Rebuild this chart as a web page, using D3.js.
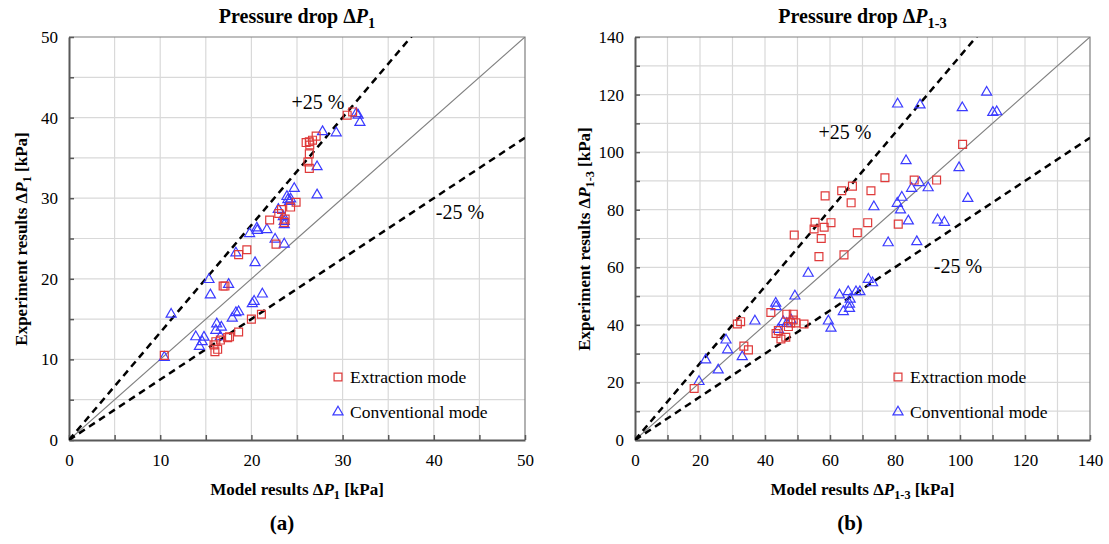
<!DOCTYPE html>
<html>
<head>
<meta charset="utf-8">
<script src="https://cdn.jsdelivr.net/npm/d3@7"></script>
<style>
  body { margin: 0; background: #fff; }
  svg text { font-family: "Liberation Serif", Tinos, "Times New Roman", Times, "Nimbus Roman", "DejaVu Serif", serif; }
</style>
</head>
<body>
<script>
// panel (a): pressure drop dP1, [model, experiment] in kPa
var extractionA = [
  [10.45,10.5],[16.9,19.1],[17.1,19.1],[18.6,23.0],[19.5,23.6],[22.7,24.3],
  [22.0,27.3],[23.0,28.1],[23.3,28.6],[23.6,27.0],[23.7,27.4],[24.3,28.9],[24.9,29.5],
  [26.2,34.5],[26.35,33.7],[26.35,35.5],[26.0,36.9],[26.4,36.6],[26.35,37.0],[26.7,37.2],[27.1,37.7],
  [30.5,40.3],[31.1,40.7],
  [15.9,11.8],[16.0,10.95],[16.3,11.25],[16.1,12.2],[16.6,12.4],[17.4,12.7],[17.6,12.8],
  [18.6,13.4],[20.0,15.0],[21.1,15.6]
];
var conventionalA = [
  [10.45,10.25],[11.2,15.6],[15.35,19.9],[15.5,18.0],[17.5,19.3],[18.3,23.2],[20.4,22.0],[22.6,24.9],[23.6,24.3],
  [21.2,18.1],[20.1,16.9],[20.3,17.2],[18.3,15.8],[18.6,15.9],[17.9,15.1],[16.2,14.4],[16.1,13.6],[16.7,14.0],
  [16.6,12.8],[13.9,12.8],[14.8,12.75],[14.3,11.6],[14.6,12.2],
  [19.8,25.6],[20.6,26.3],[20.65,26.0],[21.7,26.1],[22.95,28.6],[23.5,27.7],[23.6,27.1],[23.6,26.7],
  [23.9,30.2],[24.0,29.8],[24.3,29.9],[24.2,29.6],[24.7,31.2],
  [27.2,33.9],[27.2,30.4],[27.8,38.25],[29.3,38.1],[31.5,40.5],[31.7,40.3],[31.9,39.4]
];

// panel (b): pressure drop dP1-3
var extractionB = [
  [18.2,17.9],[31.5,40.3],[32.5,41.1],[33.5,32.6],[34.9,31.3],[41.8,44.3],[46.7,43.7],[48.7,43.7],
  [43.4,37.0],[44.1,38.0],[44.9,35.1],[46.4,35.7],[47.2,39.4],[47.9,40.7],[49.5,40.7],[52.0,40.3],[48.7,41.7],
  [49.0,71.2],[55.4,75.6],[55.1,73.3],[58.2,73.9],[60.3,75.5],[57.3,70.0],[56.6,63.7],[58.5,84.8],
  [63.6,86.6],[66.9,88.2],[66.5,82.4],[72.6,86.6],[76.9,91.1],[71.6,75.5],[68.4,72.0],[64.3,64.3],
  [81.0,75.0],[85.9,90.3],[92.8,90.3],[100.8,102.7]
];
var conventionalB = [
  [19.7,20.3],[21.75,27.8],[25.6,24.3],[28.0,34.7],[28.5,31.3],[33.0,28.9],[36.9,41.3],[43.3,47.5],[43.4,46.3],
  [49.2,50.0],[53.3,57.9],[45.6,41.1],[46.7,40.5],[48.0,41.7],[44.1,38.4],
  [59.5,41.3],[60.3,38.8],[62.9,50.4],[65.6,51.5],[68.0,51.5],[69.2,51.5],[66.2,48.9],[66.0,47.2],[66.0,45.7],[64.1,44.6],
  [71.8,55.8],[73.1,54.6],[77.9,68.5],[86.7,68.9],[84.1,76.1],[93.1,76.4],[95.2,75.6],[73.5,81.0],[81.7,79.9],
  [80.7,82.2],[82.1,84.3],[85.1,87.4],[87.5,89.4],[90.2,87.6],[83.4,97.0],[99.7,94.6],[102.4,83.9],
  [80.8,116.7],[87.7,116.4],[100.7,115.4],[108.2,120.8],[110.1,113.8],[111.3,114.0]
];

var bandFactors = [4/3, 3/4];   // +25 % / -25 % lines
var legendNames = ["Extraction mode", "Conventional mode"];

var width = 1109, height = 544;
var serif = "'Liberation Serif', Tinos, 'Times New Roman', Times, 'Nimbus Roman', 'DejaVu Serif', serif";
var svg = d3.select("body").append("svg").attr("width", width).attr("height", height)
  .attr("font-family", serif);

// text with "ΔP" + subscript
function deltaText(t, pre, sub, post, size) {
  t.append("tspan").text(pre + "Δ");
  t.append("tspan").attr("font-style", "italic").text("P");
  t.append("tspan").attr("font-size", size * 0.72).attr("dy", size * 0.25).text(sub);
  if (post) t.append("tspan").attr("dy", -size * 0.25).text(post);
}

function makePanel(cfg) {
  var x = d3.scaleLinear().domain([0, cfg.max]).range([cfg.left, cfg.right]);
  var y = d3.scaleLinear().domain([0, cfg.max]).range([440, 37]);
  var g = svg.append("g");
  var grid = d3.range(cfg.step, cfg.max, cfg.step);

  //grid
  g.selectAll(".vg").data(grid).enter().append("line")
    .attr("x1", d => x(d)).attr("x2", d => x(d)).attr("y1", y(0)).attr("y2", y(cfg.max))
    .attr("stroke", "#d9d9d9").attr("stroke-width", 1.2);
  g.selectAll(".hg").data(grid).enter().append("line")
    .attr("x1", x(0)).attr("x2", x(cfg.max)).attr("y1", d => y(d)).attr("y2", d => y(d))
    .attr("stroke", "#d9d9d9").attr("stroke-width", 1.2);

  // frame top/right
  g.append("path")
    .attr("d", "M" + x(0) + "," + y(cfg.max) + "H" + x(cfg.max) + "V" + y(0))
    .attr("fill", "none").attr("stroke", "#7f7f7f").attr("stroke-width", 1.2);

  var ticks = d3.range(0, cfg.max + 1, cfg.step);
  var fmt = d => (d % cfg.label === 0 ? d : "");

  var xAxis = g.append("g").attr("transform", "translate(0," + y(0) + ")")
    .call(d3.axisBottom(x).tickValues(ticks).tickFormat(fmt).tickSizeInner(-5).tickSizeOuter(0).tickPadding(14));
  var yAxis = g.append("g").attr("transform", "translate(" + x(0) + ",0)")
    .call(d3.axisLeft(y).tickValues(ticks).tickFormat(fmt).tickSizeInner(-5).tickSizeOuter(0).tickPadding(11));
  [xAxis, yAxis].forEach(a => {
    a.attr("font-family", serif).attr("font-size", 17);
    a.select(".domain").attr("stroke", "#595959").attr("stroke-width", 2);
    a.selectAll(".tick line").attr("stroke", "#595959").attr("stroke-width", 1.5);
    a.selectAll("text").attr("fill", "#000");
  });

  // 1:1 line and +/-25 % lines, clipped to the plot
  var clipId = "clip" + cfg.id;
  svg.append("clipPath").attr("id", clipId).append("rect")
    .attr("x", x(0)).attr("y", y(cfg.max)).attr("width", x(cfg.max) - x(0)).attr("height", y(0) - y(cfg.max));
  var lines = g.append("g").attr("clip-path", "url(#" + clipId + ")");
  lines.append("line")
    .attr("x1", x(0)).attr("y1", y(0)).attr("x2", x(cfg.max)).attr("y2", y(cfg.max))
    .attr("stroke", "#808080").attr("stroke-width", 1.2);
  lines.selectAll(".band").data(bandFactors).enter().append("line")
    .attr("x1", x(0)).attr("y1", y(0))
    .attr("x2", x(cfg.max)).attr("y2", d => y(cfg.max * d))
    .attr("stroke", "#000").attr("stroke-width", 2.5).attr("stroke-dasharray", "7,5");

  // points
  var sq = d3.symbol().type(d3.symbolSquare).size(62);
  var tri = d3.symbol().type(d3.symbolTriangle).size(44);
  g.selectAll(".conv").data(cfg.conv).enter().append("path")
    .attr("d", tri).attr("transform", d => "translate(" + x(d[0]) + "," + y(d[1]) + ")")
    .attr("fill", "none").attr("stroke", "#3b3bff").attr("stroke-width", 1.2);
  g.selectAll(".extr").data(cfg.extr).enter().append("path")
    .attr("d", sq).attr("transform", d => "translate(" + x(d[0]) + "," + y(d[1]) + ")")
    .attr("fill", "none").attr("stroke", "#df3a3a").attr("stroke-width", 1.2);

  // band labels
  g.append("text").attr("x", cfg.plusPos[0]).attr("y", cfg.plusPos[1]).attr("text-anchor", "middle")
    .attr("font-size", 20).text("+25 %");
  g.append("text").attr("x", cfg.minusPos[0]).attr("y", cfg.minusPos[1]).attr("text-anchor", "middle")
    .attr("font-size", 20).text("-25 %");

  // legend
  var lg = g.append("g").attr("transform", "translate(" + cfg.legend[0] + "," + cfg.legend[1] + ")");
  lg.append("path").attr("d", sq).attr("transform", "translate(0,0)")
    .attr("fill", "none").attr("stroke", "#df3a3a").attr("stroke-width", 1.2);
  lg.append("path").attr("d", tri).attr("transform", "translate(0,35)")
    .attr("fill", "none").attr("stroke", "#3b3bff").attr("stroke-width", 1.2);
  lg.selectAll(".lt").data(legendNames).enter().append("text")
    .attr("x", 12).attr("y", (d, i) => i * 35 + 6).attr("font-size", 17.5).text(d => d);

  // titles
  var cx = (x(0) + x(cfg.max)) / 2;
  deltaText(g.append("text").attr("x", cx).attr("y", 23).attr("text-anchor", "middle")
    .attr("font-size", 20).attr("font-weight", "bold"), "Pressure drop ", cfg.sub, "", 20);
  deltaText(g.append("text").attr("x", cx).attr("y", 495).attr("text-anchor", "middle")
    .attr("font-size", 17).attr("font-weight", "bold"), "Model results ", cfg.sub, " [kPa]", 17);
  deltaText(g.append("text").attr("transform", "translate(" + cfg.yTitleX + ",239) rotate(-90)")
    .attr("text-anchor", "middle").attr("font-size", 17).attr("font-weight", "bold"),
    "Experiment  results ", cfg.sub, " [kPa]", 17);
  g.append("text").attr("x", cfg.tagX).attr("y", 530).attr("text-anchor", "middle")
    .attr("font-size", 21).attr("font-weight", "bold").text(cfg.tag);
}

makePanel({ id: "a", left: 69, right: 525, max: 50, step: 5, label: 10, sub: "1",
  extr: extractionA, conv: conventionalA, plusPos: [318, 109], minusPos: [460, 219],
  legend: [338, 377], yTitleX: 27, tagX: 282, tag: "(a)" });
makePanel({ id: "b", left: 635, right: 1090, max: 140, step: 10, label: 20, sub: "1-3",
  extr: extractionB, conv: conventionalB, plusPos: [845, 139], minusPos: [958, 273],
  legend: [898, 377], yTitleX: 590, tagX: 850, tag: "(b)" });
</script>
</body>
</html>
